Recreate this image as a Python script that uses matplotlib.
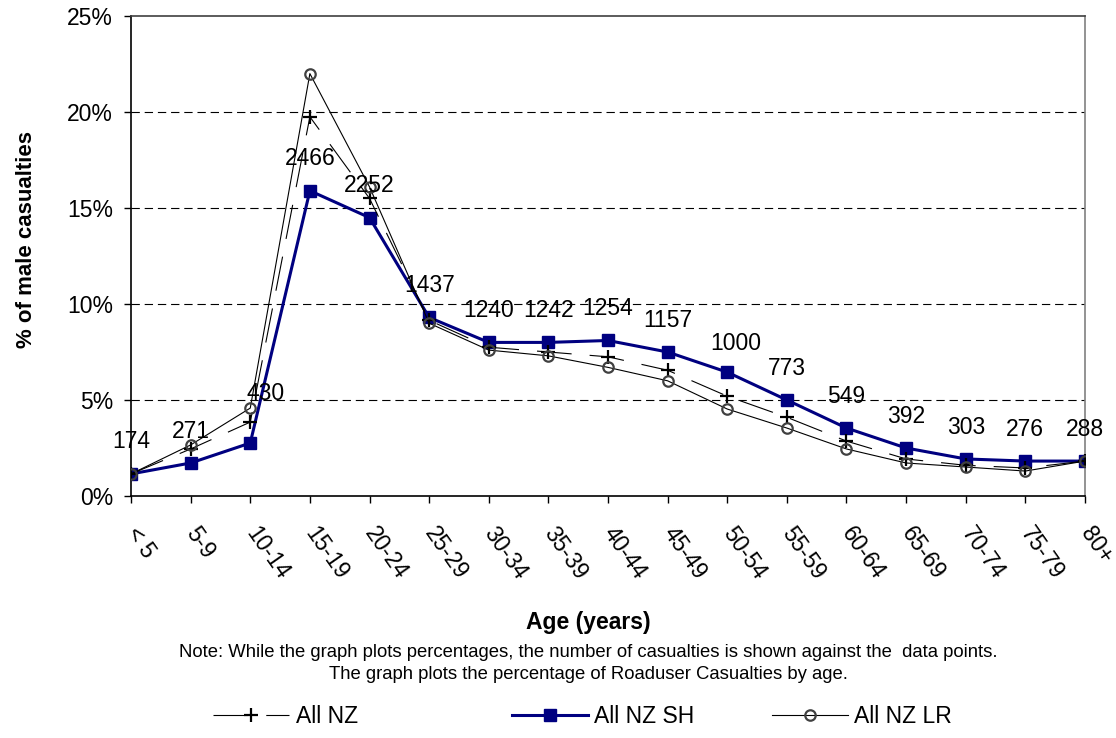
import matplotlib
matplotlib.use("Agg")
import matplotlib.pyplot as plt
import numpy as np

plt.rcParams["font.family"] = ["Liberation Sans", "DejaVu Sans"]
plt.rcParams["lines.scale_dashes"] = False

AGE_GROUPS = ["< 5", "5-9", "10-14", "15-19", "20-24", "25-29", "30-34", "35-39",
              "40-44", "45-49", "50-54", "55-59", "60-64", "65-69", "70-74", "75-79", "80+"]

# percentage of male casualties in each age band
ALL_NZ = [1.15, 2.45, 3.85, 19.75, 15.5, 9.15, 7.75, 7.5, 7.25, 6.55, 5.2, 4.1,
          2.86, 1.93, 1.6, 1.46, 1.82]
ALL_NZ_SH = [1.15, 1.72, 2.76, 15.9, 14.5, 9.3, 8.0, 8.0, 8.1, 7.5, 6.45, 5.0,
             3.54, 2.5, 1.93, 1.82, 1.82]
ALL_NZ_LR = [1.15, 2.66, 4.58, 22.0, 16.1, 9.0, 7.6, 7.3, 6.7, 6.0, 4.53, 3.54,
             2.45, 1.72, 1.51, 1.3, 1.82]

# number of casualties, written against the SH points
CASUALTIES = [174, 271, 430, 2466, 2252, 1437, 1240, 1242, 1254, 1157, 1000, 773,
              549, 392, 303, 276, 288]

# label offsets in points (a couple were nudged to keep them off the lines)
LABEL_OFFSETS = [(0, 23)] * len(CASUALTIES)
LABEL_OFFSETS[2] = (11, 36)
LABEL_OFFSETS[10] = (6, 21)

NAVY = "#000080"
CIRCLE_EDGE = "#404040"
FS = 16.5

fig = plt.figure(figsize=(11.16, 7.38), dpi=100)
ax = fig.add_axes([0.1174, 0.3279, 0.8548, 0.6504])

x = np.arange(len(AGE_GROUPS))

ax.plot(x, ALL_NZ_SH, color=NAVY, linewidth=2.2, marker="s", markersize=9,
        markerfacecolor=NAVY, markeredgecolor=NAVY, zorder=3, label="All NZ SH")
ax.plot(x, ALL_NZ, color="black", linewidth=0.8, dashes=(25, 13), marker="+",
        markersize=10, markeredgewidth=1.6, markeredgecolor="black", zorder=4,
        label="All NZ")
ax.plot(x, ALL_NZ_LR, color="black", linewidth=0.8, marker="o", markersize=7.5,
        markerfacecolor="none", markeredgecolor=CIRCLE_EDGE, markeredgewidth=1.6,
        zorder=5, label="All NZ LR")

for i, (n, off) in enumerate(zip(CASUALTIES, LABEL_OFFSETS)):
    ax.annotate(str(n), (x[i], ALL_NZ_SH[i]), xytext=off, textcoords="offset points",
                ha="center", va="center", fontsize=FS, zorder=6)

ax.set_xlim(0, len(AGE_GROUPS) - 1)
ax.set_ylim(0, 25)
ax.set_yticks(np.arange(0, 26, 5))
ax.set_yticklabels([f"{v}%" for v in range(0, 26, 5)], fontsize=FS)
ax.set_xticks(x)
ax.set_xticklabels(AGE_GROUPS, fontsize=FS, rotation=-55, ha="left", va="center",
                   rotation_mode="anchor")
ax.tick_params(axis="y", direction="out", length=5, width=1, pad=8)
ax.tick_params(axis="x", direction="out", length=5, width=1, pad=19)

for yv in range(5, 25, 5):
    ax.axhline(yv, color="black", linewidth=0.8, dashes=(6, 3.5), zorder=1)

ax.spines["left"].set_color("black")
ax.spines["bottom"].set_color("black")
ax.spines["top"].set_color("#404040")
ax.spines["right"].set_color("#808080")
for s in ax.spines.values():
    s.set_linewidth(1.2)

fig.text(0.0235, 0.675, "% of male casualties", rotation=90, fontsize=16,
         fontweight="bold", ha="center", va="center")
fig.text(0.527, 0.157, "Age (years)", fontsize=16.5, fontweight="bold",
         ha="center", va="center")
fig.text(0.527, 0.1165,
         "Note: While the graph plots percentages, the number of casualties is shown against the  data points.",
         fontsize=13.3, ha="center", va="center")
fig.text(0.527, 0.0854, "The graph plots the percentage of Roaduser Casualties by age.",
         fontsize=13.3, ha="center", va="center")

# legend entries laid out along the bottom, one per series
handles = {h.get_label(): h for h in ax.get_lines() if not h.get_label().startswith("_")}
for name, xpos in [("All NZ", 213), ("All NZ SH", 512), ("All NZ LR", 772)]:
    fig.legend([handles[name]], [name], loc="center left",
               bbox_to_anchor=(xpos / 1116, 0.0285), frameon=False,
               fontsize=FS, handlelength=3.3, handletextpad=0.3,
               borderpad=0, borderaxespad=0)

fig.savefig("out.png", dpi=100)
